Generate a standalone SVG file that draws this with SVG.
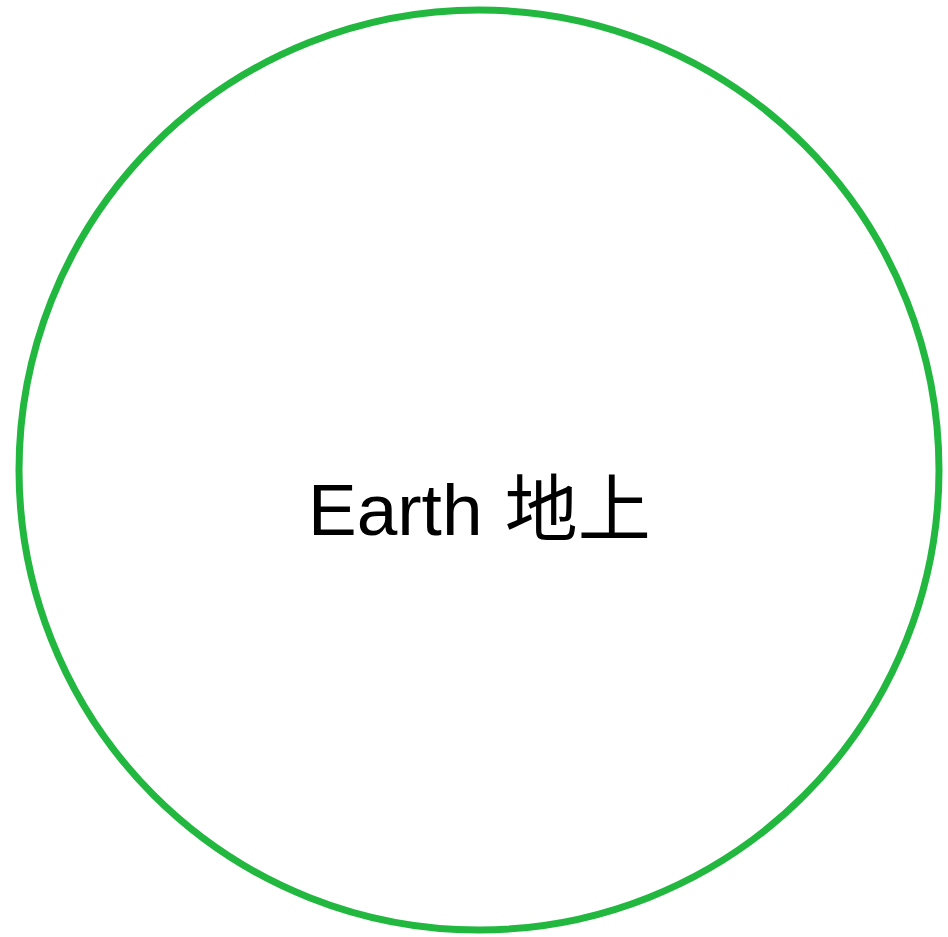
<svg xmlns="http://www.w3.org/2000/svg" width="948" height="937" viewBox="0 0 948 937">
<style>
.node-shape{fill:#ffffff;stroke:#22b840;stroke-width:7}
.label{font-family:"Liberation Sans","Noto Sans CJK SC",sans-serif;font-size:73px;fill:#000000}
</style>
<rect width="948" height="937" fill="#ffffff"/>
<g id="connectors"/>
<g id="earth">
<circle class="node-shape" cx="479" cy="470" r="460"/>
<text class="label" x="308" y="535">Earth <tspan dx="2">地上</tspan></text>
</g>
</svg>
